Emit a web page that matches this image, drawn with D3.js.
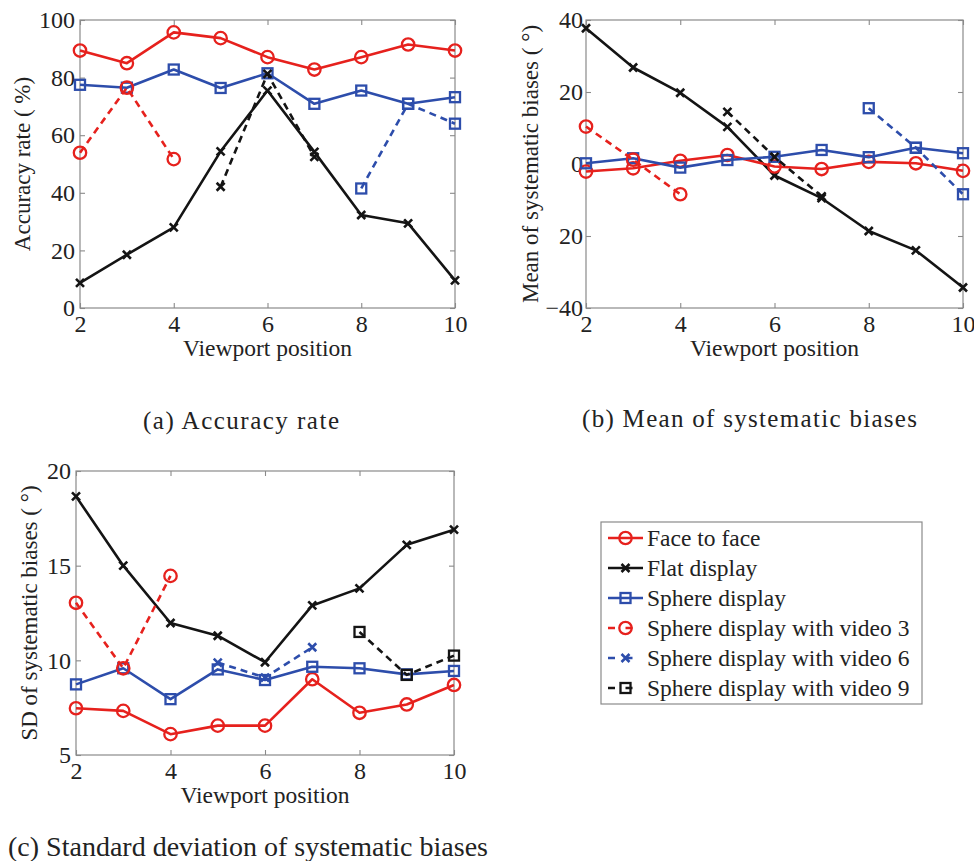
<!DOCTYPE html>
<html><head><meta charset="utf-8">
<script src="https://cdn.jsdelivr.net/npm/d3@7"></script>
<style>
html,body{margin:0;padding:0;background:#fff;}
svg text{font-family:"Liberation Serif","Times New Roman","DejaVu Serif",serif;fill:#222;}
</style></head>
<body><svg id="c" width="974" height="861" font-family="Liberation Serif, serif"></svg>
<script>
// ---------------- data ----------------
const positions = [2,3,4,5,6,7,8,9,10];
const posVideo3 = [2,3,4];
const posVideo6 = [5,6,7];
const posVideo9 = [8,9,10];

// (a) Accuracy rate (%)
const accFace   = [89.4,85.0,95.7,93.7,87.1,82.8,87.1,91.5,89.4];
const accFlat   = [8.7,18.5,28.0,54.4,75.5,54.2,32.3,29.4,9.6];
const accSphere = [77.5,76.5,82.8,76.4,81.5,70.9,75.5,70.9,73.2];
const accVideo3 = [53.9,76.5,51.7];
const accVideo6 = [42.1,81.3,52.5];
const accVideo9 = [41.5,70.9,64.0];

// (b) Mean of systematic biases (deg)
const meanFace   = [-2.1,-1.2,0.9,2.5,-0.7,-1.4,0.6,0.2,-1.9];
const meanFlat   = [37.7,26.8,19.8,10.3,-3.2,-9.5,-18.6,-24.0,-34.3];
const meanSphere = [0.2,1.6,-1.0,1.1,2.0,3.9,1.9,4.5,3.0];
const meanVideo3 = [10.4,1.2,-8.4];
const meanVideo6 = [14.5,2.0,-9.0];
const meanVideo9 = [15.5,4.5,-8.4];

// (c) SD of systematic biases (deg)
const sdFace   = [7.47,7.33,6.1,6.55,6.55,9.0,7.23,7.67,8.7];
const sdFlat   = [18.66,15.0,11.97,11.3,9.9,12.9,13.8,16.1,16.9];
const sdSphere = [8.73,9.58,7.95,9.52,8.96,9.66,9.58,9.26,9.44];
const sdVideo3 = [13.04,9.58,14.46];
const sdVideo6 = [9.88,9.09,10.69];
const sdVideo9 = [11.5,9.23,10.25];

const xTicks = [2,4,6,8,10];
const accTicks = [0,20,40,60,80,100];
const meanTicks = [-40,-20,0,20,40];
const meanTickLabels = ["\u221240","20","0","20","40"];
const sdTicks = [5,10,15,20];

const legendLabels = ["Face to face","Flat display","Sphere display",
  "Sphere display with video 3","Sphere display with video 6","Sphere display with video 9"];

// ---------------- styles ----------------
const RED="#e6211d", BLUE="#2d4dab", BLACK="#141414";
const DASH="7,5";
const FONT="Liberation Serif, Times New Roman, serif";

const svg = d3.select("#c");

function drawMarker(g, type, x, y, color){
  if(type==="circle"){
    g.append("circle").attr("cx",x).attr("cy",y).attr("r",6.2)
      .attr("fill","none").attr("stroke",color).attr("stroke-width",2.3);
  } else if(type==="square"){
    g.append("rect").attr("x",x-5).attr("y",y-5).attr("width",10).attr("height",10)
      .attr("fill","none").attr("stroke",color).attr("stroke-width",2.3);
  } else if(type==="x"){
    const s=4;
    g.append("path").attr("d",`M${x-s},${y-s}L${x+s},${y+s}M${x-s},${y+s}L${x+s},${y-s}`)
      .attr("stroke",color).attr("stroke-width",2.6).attr("fill","none");
  }
}

function panel(cfg){
  const {left,top,right,bottom,yDomain,yTicks,yTickLabels,series,yLabel,yLabelX,yPad} = cfg;
  const x = d3.scaleLinear().domain([2,10]).range([left,right]);
  const y = d3.scaleLinear().domain(yDomain).range([bottom,top]);
  const g = svg.append("g");
  const axisColor="#8a8a8a";
  g.append("rect").attr("x",left).attr("y",top).attr("width",right-left).attr("height",bottom-top)
    .attr("fill","none").attr("stroke",axisColor).attr("stroke-width",1.2);
  const tl=5;
  const ax = g.append("g").attr("transform",`translate(0,${bottom})`)
    .call(d3.axisBottom(x).tickValues(xTicks).tickSize(-tl).tickPadding(9).tickFormat(d3.format("d")));
  const axT = g.append("g").attr("transform",`translate(0,${top})`)
    .call(d3.axisTop(x).tickValues(xTicks).tickSize(-tl).tickFormat(""));
  const ay = g.append("g").attr("transform",`translate(${left},0)`)
    .call(d3.axisLeft(y).tickValues(yTicks).tickSize(-tl).tickPadding(yPad)
      .tickFormat((d,i)=> yTickLabels ? yTickLabels[i] : d));
  const ayR = g.append("g").attr("transform",`translate(${right},0)`)
    .call(d3.axisRight(y).tickValues(yTicks).tickSize(-tl).tickFormat(""));
  [ax,axT,ay,ayR].forEach(a=>{
    a.attr("font-family",FONT);
    a.select(".domain").remove();
    a.selectAll(".tick line").attr("stroke",axisColor).attr("stroke-width",1.1);
    a.selectAll("text").attr("font-size",24).attr("fill","#222");
  });
  ax.selectAll("text").attr("dy","0.62em");
  g.append("text").attr("x",(left+right)/2).attr("y",bottom+48).attr("text-anchor","middle")
    .attr("font-size",23.5).text("Viewport position");
  g.append("text").attr("transform",`translate(${yLabelX},${(top+bottom)/2}) rotate(-90)`)
    .attr("text-anchor","middle").attr("font-size",23).text(yLabel);
  const line = d3.line().x(d=>x(d[0])).y(d=>y(d[1]));
  series.forEach(s=>{
    const pts = s.xs.map((p,i)=>[p,s.vals[i]]);
    g.append("path").datum(pts).attr("d",line).attr("fill","none")
      .attr("stroke",s.color).attr("stroke-width",2.6)
      .attr("stroke-dasharray",s.dash?DASH:null).attr("stroke-linejoin","round");
    pts.forEach(p=>drawMarker(g,s.marker,x(p[0]),y(p[1]),s.color));
  });
}

function caption(x, y, text, size, len){
  svg.append("text").attr("x",x).attr("y",y).attr("text-anchor","start")
    .attr("font-size",size).attr("textLength",len).attr("lengthAdjust","spacing").text(text);
}

// (a)
panel({left:80,top:20,right:455,bottom:308,yDomain:[0,100],yTicks:accTicks,yPad:5,
  yLabel:"Accuracy rate ( %)", yLabelX:30,
  series:[
    {xs:positions,vals:accFace,color:RED,marker:"circle"},
    {xs:positions,vals:accSphere,color:BLUE,marker:"square"},
    {xs:positions,vals:accFlat,color:BLACK,marker:"x"},
    {xs:posVideo3,vals:accVideo3,color:RED,marker:"circle",dash:true},
    {xs:posVideo6,vals:accVideo6,color:BLACK,marker:"x",dash:true},
    {xs:posVideo9,vals:accVideo9,color:BLUE,marker:"square",dash:true}
  ]});
// (b)
panel({left:586,top:20,right:963,bottom:308,yDomain:[-40,40],yTicks:meanTicks,yTickLabels:meanTickLabels,yPad:3,
  yLabel:"Mean of systematic biases ( \u00B0)", yLabelX:538,
  series:[
    {xs:positions,vals:meanFlat,color:BLACK,marker:"x"},
    {xs:positions,vals:meanFace,color:RED,marker:"circle"},
    {xs:positions,vals:meanSphere,color:BLUE,marker:"square"},
    {xs:posVideo3,vals:meanVideo3,color:RED,marker:"circle",dash:true},
    {xs:posVideo6,vals:meanVideo6,color:BLACK,marker:"x",dash:true},
    {xs:posVideo9,vals:meanVideo9,color:BLUE,marker:"square",dash:true}
  ]});
// (c)
panel({left:76,top:471,right:454,bottom:755,yDomain:[5,20],yTicks:sdTicks,yPad:5,
  yLabel:"SD of systematic biases ( \u00B0)", yLabelX:37,
  series:[
    {xs:positions,vals:sdFlat,color:BLACK,marker:"x"},
    {xs:positions,vals:sdFace,color:RED,marker:"circle"},
    {xs:positions,vals:sdSphere,color:BLUE,marker:"square"},
    {xs:posVideo3,vals:sdVideo3,color:RED,marker:"circle",dash:true},
    {xs:posVideo6,vals:sdVideo6,color:BLUE,marker:"x",dash:true},
    {xs:posVideo9,vals:sdVideo9,color:BLACK,marker:"square",dash:true}
  ]});

caption(143,429,"(a)  Accuracy rate",25,196);
caption(582,427,"(b)  Mean of systematic biases",25,335);
caption(8,856,"(c) Standard deviation of systematic biases",28,480);

// legend
const legendStyles = [
  {color:RED,marker:"circle",dash:false},
  {color:BLACK,marker:"x",dash:false},
  {color:BLUE,marker:"square",dash:false},
  {color:RED,marker:"circle",dash:true},
  {color:BLUE,marker:"x",dash:true},
  {color:BLACK,marker:"square",dash:true}
];
const lg = svg.append("g");
lg.append("rect").attr("x",601).attr("y",522).attr("width",321).attr("height",182)
  .attr("fill","#fff").attr("stroke","#8a8a8a").attr("stroke-width",1.2);
const rowY = d3.scalePoint().domain(d3.range(legendLabels.length)).range([538,688]);
legendLabels.forEach((lab,i)=>{
  const st=legendStyles[i], yy=rowY(i);
  lg.append("line").attr("x1",608).attr("x2",643).attr("y1",yy).attr("y2",yy)
    .attr("stroke",st.color).attr("stroke-width",2.6)
    .attr("stroke-dasharray",st.dash?"7,10.5":null);
  drawMarker(lg,st.marker,625.5,yy,st.color);
  lg.append("text").attr("x",647).attr("y",yy+8).attr("font-size",23.5).text(lab);
});
</script></body></html>
